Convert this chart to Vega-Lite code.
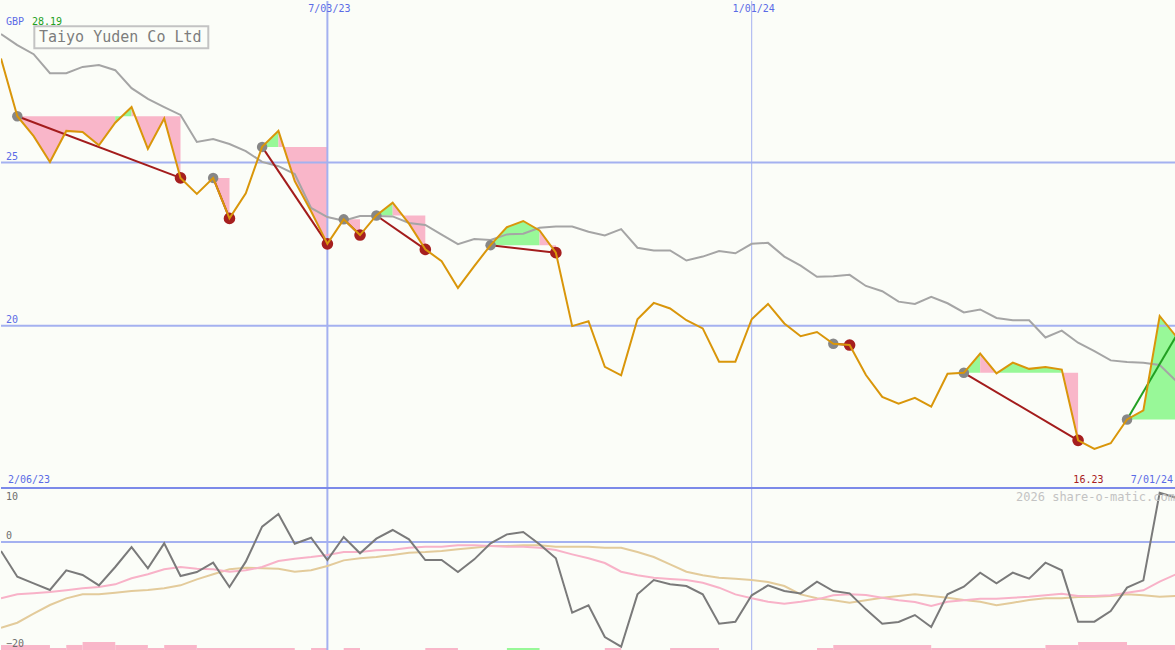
{
  "$schema": "https://vega.github.io/schema/vega-lite/v6.json",
  "background": "#fbfdf8",
  "padding": 0,
  "spacing": 0,
  "bounds": "flush",
  "config": {
    "view": {"stroke": null},
    "text": {"font": "DejaVu Sans Mono"}
  },
  "datasets": {
    "weekly": [
      {"date": "2023-02-13", "close": 28.19, "trend": 28.94, "osc": -1.67, "fast": -10.46, "slow": -15.91},
      {"date": "2023-02-20", "close": 26.42, "trend": 28.60, "osc": -6.44, "fast": -9.72, "slow": -14.99},
      {"date": "2023-02-27", "close": 25.81, "trend": 28.32, "osc": -7.67, "fast": -9.50, "slow": -13.31},
      {"date": "2023-03-06", "close": 25.02, "trend": 27.74, "osc": -8.91, "fast": -9.29, "slow": -11.70},
      {"date": "2023-03-13", "close": 25.97, "trend": 27.74, "osc": -5.26, "fast": -8.95, "slow": -10.46},
      {"date": "2023-03-20", "close": 25.94, "trend": 27.93, "osc": -6.13, "fast": -8.60, "slow": -9.72},
      {"date": "2023-03-27", "close": 25.53, "trend": 27.99, "osc": -8.05, "fast": -8.36, "slow": -9.72},
      {"date": "2023-04-03", "close": 26.22, "trend": 27.83, "osc": -4.64, "fast": -7.86, "slow": -9.41},
      {"date": "2023-04-10", "close": 26.70, "trend": 27.28, "osc": -0.93, "fast": -6.74, "slow": -9.10},
      {"date": "2023-04-17", "close": 25.42, "trend": 26.95, "osc": -4.89, "fast": -6.00, "slow": -8.91},
      {"date": "2023-04-24", "close": 26.35, "trend": 26.70, "osc": -0.25, "fast": -5.07, "slow": -8.60},
      {"date": "2023-05-01", "close": 24.53, "trend": 26.46, "osc": -6.31, "fast": -4.64, "slow": -8.05},
      {"date": "2023-05-08", "close": 24.04, "trend": 25.63, "osc": -5.57, "fast": -4.95, "slow": -6.93},
      {"date": "2023-05-15", "close": 24.53, "trend": 25.72, "osc": -3.84, "fast": -5.07, "slow": -6.00},
      {"date": "2023-05-22", "close": 23.29, "trend": 25.57, "osc": -8.36, "fast": -5.51, "slow": -5.07},
      {"date": "2023-05-29", "close": 24.06, "trend": 25.35, "osc": -3.65, "fast": -5.26, "slow": -4.77},
      {"date": "2023-06-05", "close": 25.48, "trend": 25.02, "osc": 2.85, "fast": -4.64, "slow": -4.89},
      {"date": "2023-06-12", "close": 25.97, "trend": 24.89, "osc": 5.20, "fast": -3.53, "slow": -4.95},
      {"date": "2023-06-19", "close": 24.43, "trend": 24.65, "osc": -0.31, "fast": -3.10, "slow": -5.51},
      {"date": "2023-06-26", "close": 23.51, "trend": 23.61, "osc": 0.80, "fast": -2.79, "slow": -5.26},
      {"date": "2023-07-03", "close": 22.51, "trend": 23.33, "osc": -3.34, "fast": -2.41, "slow": -4.46},
      {"date": "2023-07-10", "close": 23.26, "trend": 23.22, "osc": 0.93, "fast": -1.86, "slow": -3.41},
      {"date": "2023-07-17", "close": 22.78, "trend": 23.36, "osc": -2.10, "fast": -1.86, "slow": -3.03},
      {"date": "2023-07-24", "close": 23.38, "trend": 23.36, "osc": 0.62, "fast": -1.55, "slow": -2.79},
      {"date": "2023-07-31", "close": 23.77, "trend": 23.35, "osc": 2.23, "fast": -1.42, "slow": -2.41},
      {"date": "2023-08-07", "close": 23.13, "trend": 23.15, "osc": 0.50, "fast": -1.05, "slow": -1.98},
      {"date": "2023-08-14", "close": 22.34, "trend": 23.09, "osc": -3.34, "fast": -0.87, "slow": -1.86},
      {"date": "2023-08-21", "close": 21.98, "trend": 22.79, "osc": -3.34, "fast": -0.87, "slow": -1.67},
      {"date": "2023-08-28", "close": 21.16, "trend": 22.50, "osc": -5.57, "fast": -0.62, "slow": -1.36},
      {"date": "2023-09-04", "close": 21.83, "trend": 22.66, "osc": -3.22, "fast": -0.62, "slow": -1.05},
      {"date": "2023-09-11", "close": 22.47, "trend": 22.63, "osc": -0.25, "fast": -0.74, "slow": -0.74},
      {"date": "2023-09-18", "close": 23.02, "trend": 22.80, "osc": 1.42, "fast": -0.87, "slow": -0.74},
      {"date": "2023-09-25", "close": 23.21, "trend": 22.82, "osc": 1.86, "fast": -0.87, "slow": -0.62},
      {"date": "2023-10-02", "close": 22.92, "trend": 23.00, "osc": -0.43, "fast": -1.05, "slow": -0.62},
      {"date": "2023-10-09", "close": 22.24, "trend": 23.04, "osc": -3.03, "fast": -1.49, "slow": -0.87},
      {"date": "2023-10-16", "close": 19.99, "trend": 23.04, "osc": -13.13, "fast": -2.29, "slow": -0.87},
      {"date": "2023-10-23", "close": 20.14, "trend": 22.88, "osc": -11.76, "fast": -3.03, "slow": -0.87},
      {"date": "2023-10-30", "close": 18.74, "trend": 22.77, "osc": -17.64, "fast": -3.90, "slow": -1.05},
      {"date": "2023-11-06", "close": 18.48, "trend": 22.96, "osc": -19.44, "fast": -5.51, "slow": -1.05},
      {"date": "2023-11-13", "close": 20.20, "trend": 22.39, "osc": -9.72, "fast": -6.18, "slow": -1.86},
      {"date": "2023-11-20", "close": 20.70, "trend": 22.31, "osc": -7.06, "fast": -6.63, "slow": -2.79},
      {"date": "2023-11-27", "close": 20.53, "trend": 22.31, "osc": -7.86, "fast": -6.85, "slow": -4.15},
      {"date": "2023-12-04", "close": 20.17, "trend": 22.00, "osc": -8.17, "fast": -7.06, "slow": -5.51},
      {"date": "2023-12-11", "close": 19.92, "trend": 22.12, "osc": -9.72, "fast": -7.56, "slow": -6.18},
      {"date": "2023-12-18", "close": 18.90, "trend": 22.29, "osc": -15.17, "fast": -8.48, "slow": -6.63},
      {"date": "2023-12-25", "close": 18.90, "trend": 22.22, "osc": -14.80, "fast": -9.72, "slow": -6.81},
      {"date": "2024-01-01", "close": 20.20, "trend": 22.51, "osc": -9.90, "fast": -10.46, "slow": -7.06},
      {"date": "2024-01-08", "close": 20.67, "trend": 22.54, "osc": -8.05, "fast": -11.09, "slow": -7.43},
      {"date": "2024-01-15", "close": 20.07, "trend": 22.12, "osc": -9.10, "fast": -11.46, "slow": -8.17},
      {"date": "2024-01-22", "close": 19.68, "trend": 21.84, "osc": -9.54, "fast": -11.09, "slow": -9.72},
      {"date": "2024-01-29", "close": 19.81, "trend": 21.50, "osc": -7.37, "fast": -10.65, "slow": -10.46},
      {"date": "2024-02-05", "close": 19.45, "trend": 21.52, "osc": -9.10, "fast": -9.90, "slow": -10.83},
      {"date": "2024-02-12", "close": 19.41, "trend": 21.56, "osc": -9.54, "fast": -9.72, "slow": -11.27},
      {"date": "2024-02-19", "close": 18.49, "trend": 21.22, "osc": -12.51, "fast": -9.84, "slow": -10.83},
      {"date": "2024-02-26", "close": 17.82, "trend": 21.06, "osc": -15.17, "fast": -10.34, "slow": -10.34},
      {"date": "2024-03-04", "close": 17.61, "trend": 20.74, "osc": -14.86, "fast": -10.83, "slow": -10.03},
      {"date": "2024-03-11", "close": 17.79, "trend": 20.67, "osc": -13.56, "fast": -11.14, "slow": -9.72},
      {"date": "2024-03-18", "close": 17.52, "trend": 20.89, "osc": -15.78, "fast": -11.88, "slow": -10.03},
      {"date": "2024-03-25", "close": 18.53, "trend": 20.69, "osc": -9.72, "fast": -11.09, "slow": -10.34},
      {"date": "2024-04-01", "close": 18.56, "trend": 20.41, "osc": -8.29, "fast": -10.83, "slow": -10.77},
      {"date": "2024-04-08", "close": 19.15, "trend": 20.50, "osc": -5.69, "fast": -10.53, "slow": -11.09},
      {"date": "2024-04-15", "close": 18.54, "trend": 20.24, "osc": -7.67, "fast": -10.53, "slow": -11.76},
      {"date": "2024-04-22", "close": 18.87, "trend": 20.17, "osc": -5.69, "fast": -10.34, "slow": -11.27},
      {"date": "2024-04-29", "close": 18.68, "trend": 20.17, "osc": -6.81, "fast": -10.16, "slow": -10.77},
      {"date": "2024-05-06", "close": 18.74, "trend": 19.64, "osc": -3.84, "fast": -9.90, "slow": -10.46},
      {"date": "2024-05-13", "close": 18.66, "trend": 19.85, "osc": -5.26, "fast": -9.60, "slow": -10.46},
      {"date": "2024-05-20", "close": 16.49, "trend": 19.48, "osc": -14.80, "fast": -10.03, "slow": -10.21},
      {"date": "2024-05-27", "close": 16.23, "trend": 19.22, "osc": -14.80, "fast": -10.03, "slow": -10.16},
      {"date": "2024-06-03", "close": 16.40, "trend": 18.94, "osc": -12.81, "fast": -9.90, "slow": -10.03},
      {"date": "2024-06-10", "close": 17.13, "trend": 18.89, "osc": -8.48, "fast": -9.41, "slow": -9.72},
      {"date": "2024-06-17", "close": 17.41, "trend": 18.87, "osc": -7.12, "fast": -8.97, "slow": -9.90},
      {"date": "2024-06-24", "close": 20.30, "trend": 18.80, "osc": 9.16, "fast": -7.37, "slow": -10.16},
      {"date": "2024-07-01", "close": 19.68, "trend": 18.31, "osc": 8.23, "fast": -6.00, "slow": -10.03}
    ],
    "trades": [
      {"trade": 1, "date": "2023-02-20", "price": 26.42, "role": "entry", "state": "closed"},
      {"trade": 1, "date": "2023-05-01", "price": 24.53, "role": "exit", "state": "closed"},
      {"trade": 2, "date": "2023-05-15", "price": 24.53, "role": "entry", "state": "closed"},
      {"trade": 2, "date": "2023-05-22", "price": 23.29, "role": "exit", "state": "closed"},
      {"trade": 3, "date": "2023-06-05", "price": 25.48, "role": "entry", "state": "closed"},
      {"trade": 3, "date": "2023-07-03", "price": 22.51, "role": "exit", "state": "closed"},
      {"trade": 4, "date": "2023-07-10", "price": 23.26, "role": "entry", "state": "closed"},
      {"trade": 4, "date": "2023-07-17", "price": 22.78, "role": "exit", "state": "closed"},
      {"trade": 5, "date": "2023-07-24", "price": 23.38, "role": "entry", "state": "closed"},
      {"trade": 5, "date": "2023-08-14", "price": 22.34, "role": "exit", "state": "closed"},
      {"trade": 6, "date": "2023-09-11", "price": 22.47, "role": "entry", "state": "closed"},
      {"trade": 6, "date": "2023-10-09", "price": 22.24, "role": "exit", "state": "closed"},
      {"trade": 7, "date": "2024-02-05", "price": 19.45, "role": "entry", "state": "closed"},
      {"trade": 7, "date": "2024-02-12", "price": 19.41, "role": "exit", "state": "closed"},
      {"trade": 8, "date": "2024-04-01", "price": 18.56, "role": "entry", "state": "closed"},
      {"trade": 8, "date": "2024-05-20", "price": 16.49, "role": "exit", "state": "closed"},
      {"trade": 9, "date": "2024-06-10", "price": 17.13, "role": "entry", "state": "open"},
      {"trade": 9, "date": "2024-07-01", "price": 19.68, "role": "last", "state": "open"}
    ],
    "legs": [
      {"leg": "1a", "result": "loss", "level": 26.42, "date": "2023-02-20", "close": 26.42},
      {"leg": "1a", "result": "loss", "level": 26.42, "date": "2023-02-27", "close": 25.81},
      {"leg": "1a", "result": "loss", "level": 26.42, "date": "2023-03-06", "close": 25.02},
      {"leg": "1a", "result": "loss", "level": 26.42, "date": "2023-03-13", "close": 25.97},
      {"leg": "1a", "result": "loss", "level": 26.42, "date": "2023-03-20", "close": 25.94},
      {"leg": "1a", "result": "loss", "level": 26.42, "date": "2023-03-27", "close": 25.53},
      {"leg": "1a", "result": "loss", "level": 26.42, "date": "2023-04-03", "close": 26.22},
      {"leg": "1b", "result": "gain", "level": 26.42, "date": "2023-04-03", "close": 26.22},
      {"leg": "1b", "result": "gain", "level": 26.42, "date": "2023-04-10", "close": 26.70},
      {"leg": "1c", "result": "loss", "level": 26.42, "date": "2023-04-10", "close": 26.70},
      {"leg": "1c", "result": "loss", "level": 26.42, "date": "2023-04-17", "close": 25.42},
      {"leg": "1c", "result": "loss", "level": 26.42, "date": "2023-04-24", "close": 26.35},
      {"leg": "1c", "result": "loss", "level": 26.42, "date": "2023-05-01", "close": 24.53},
      {"leg": "2", "result": "loss", "level": 24.53, "date": "2023-05-15", "close": 24.53},
      {"leg": "2", "result": "loss", "level": 24.53, "date": "2023-05-22", "close": 23.29},
      {"leg": "3a", "result": "gain", "level": 25.48, "date": "2023-06-05", "close": 25.48},
      {"leg": "3a", "result": "gain", "level": 25.48, "date": "2023-06-12", "close": 25.97},
      {"leg": "3b", "result": "loss", "level": 25.48, "date": "2023-06-12", "close": 25.97},
      {"leg": "3b", "result": "loss", "level": 25.48, "date": "2023-06-19", "close": 24.43},
      {"leg": "3b", "result": "loss", "level": 25.48, "date": "2023-06-26", "close": 23.51},
      {"leg": "3b", "result": "loss", "level": 25.48, "date": "2023-07-03", "close": 22.51},
      {"leg": "4", "result": "loss", "level": 23.26, "date": "2023-07-10", "close": 23.26},
      {"leg": "4", "result": "loss", "level": 23.26, "date": "2023-07-17", "close": 22.78},
      {"leg": "5a", "result": "gain", "level": 23.38, "date": "2023-07-24", "close": 23.38},
      {"leg": "5a", "result": "gain", "level": 23.38, "date": "2023-07-31", "close": 23.77},
      {"leg": "5b", "result": "loss", "level": 23.38, "date": "2023-07-31", "close": 23.77},
      {"leg": "5b", "result": "loss", "level": 23.38, "date": "2023-08-07", "close": 23.13},
      {"leg": "5b", "result": "loss", "level": 23.38, "date": "2023-08-14", "close": 22.34},
      {"leg": "6a", "result": "gain", "level": 22.47, "date": "2023-09-11", "close": 22.47},
      {"leg": "6a", "result": "gain", "level": 22.47, "date": "2023-09-18", "close": 23.02},
      {"leg": "6a", "result": "gain", "level": 22.47, "date": "2023-09-25", "close": 23.21},
      {"leg": "6a", "result": "gain", "level": 22.47, "date": "2023-10-02", "close": 22.92},
      {"leg": "6b", "result": "loss", "level": 22.47, "date": "2023-10-02", "close": 22.92},
      {"leg": "6b", "result": "loss", "level": 22.47, "date": "2023-10-09", "close": 22.24},
      {"leg": "7", "result": "loss", "level": 19.45, "date": "2024-02-05", "close": 19.45},
      {"leg": "7", "result": "loss", "level": 19.45, "date": "2024-02-12", "close": 19.41},
      {"leg": "8a", "result": "gain", "level": 18.56, "date": "2024-04-01", "close": 18.56},
      {"leg": "8a", "result": "gain", "level": 18.56, "date": "2024-04-08", "close": 19.15},
      {"leg": "8b", "result": "loss", "level": 18.56, "date": "2024-04-08", "close": 19.15},
      {"leg": "8b", "result": "loss", "level": 18.56, "date": "2024-04-15", "close": 18.54},
      {"leg": "8c", "result": "gain", "level": 18.56, "date": "2024-04-15", "close": 18.54},
      {"leg": "8c", "result": "gain", "level": 18.56, "date": "2024-04-22", "close": 18.87},
      {"leg": "8c", "result": "gain", "level": 18.56, "date": "2024-04-29", "close": 18.68},
      {"leg": "8c", "result": "gain", "level": 18.56, "date": "2024-05-06", "close": 18.74},
      {"leg": "8c", "result": "gain", "level": 18.56, "date": "2024-05-13", "close": 18.66},
      {"leg": "8d", "result": "loss", "level": 18.56, "date": "2024-05-13", "close": 18.66},
      {"leg": "8d", "result": "loss", "level": 18.56, "date": "2024-05-20", "close": 16.49},
      {"leg": "9", "result": "gain", "level": 17.13, "date": "2024-06-10", "close": 17.13},
      {"leg": "9", "result": "gain", "level": 17.13, "date": "2024-06-17", "close": 17.41},
      {"leg": "9", "result": "gain", "level": 17.13, "date": "2024-06-24", "close": 20.30},
      {"leg": "9", "result": "gain", "level": 17.13, "date": "2024-07-01", "close": 19.68}
    ],
    "streaks": [
      {"from": "2023-02-13", "to": "2023-03-06", "count": 2, "tone": "down"},
      {"from": "2023-03-06", "to": "2023-03-13", "count": 1, "tone": "down"},
      {"from": "2023-03-13", "to": "2023-03-20", "count": 2, "tone": "down"},
      {"from": "2023-03-20", "to": "2023-04-03", "count": 3, "tone": "down"},
      {"from": "2023-04-03", "to": "2023-04-17", "count": 2, "tone": "down"},
      {"from": "2023-04-17", "to": "2023-04-24", "count": 1, "tone": "down"},
      {"from": "2023-04-24", "to": "2023-05-08", "count": 2, "tone": "down"},
      {"from": "2023-05-08", "to": "2023-06-19", "count": 1, "tone": "down"},
      {"from": "2023-06-26", "to": "2023-07-03", "count": 1, "tone": "down"},
      {"from": "2023-07-10", "to": "2023-07-17", "count": 1, "tone": "down"},
      {"from": "2023-08-14", "to": "2023-08-28", "count": 1, "tone": "down"},
      {"from": "2023-09-18", "to": "2023-10-02", "count": 1, "tone": "up"},
      {"from": "2023-10-30", "to": "2023-11-06", "count": 1, "tone": "down"},
      {"from": "2023-11-27", "to": "2023-12-18", "count": 1, "tone": "down"},
      {"from": "2024-01-29", "to": "2024-02-05", "count": 1, "tone": "down"},
      {"from": "2024-02-05", "to": "2024-03-18", "count": 2, "tone": "down"},
      {"from": "2024-03-18", "to": "2024-05-06", "count": 1, "tone": "down"},
      {"from": "2024-05-06", "to": "2024-05-20", "count": 2, "tone": "down"},
      {"from": "2024-05-20", "to": "2024-06-10", "count": 3, "tone": "down"},
      {"from": "2024-06-10", "to": "2024-07-01", "count": 2, "tone": "down"}
    ],
    "dateMarks": [
      {"date": "2023-07-03"},
      {"date": "2024-01-01"}
    ],
    "levels": [
      {"price": 20},
      {"price": 25}
    ],
    "oscTicks": [
      {"value": 10},
      {"value": 0},
      {"value": -20}
    ]
  },
  "vconcat": [
    {
      "width": 1175,
      "height": 487,
      "resolve": {"scale": {"color": "independent", "size": "independent"}},
      "layer": [
        {
          "data": {"name": "legs"},
          "mark": {"type": "area", "opacity": 1, "clip": true},
          "encoding": {
            "x": {"field": "date", "type": "temporal", "scale": {"domain": [{"year": 2023, "month": 2, "date": 13, "utc": true}, {"year": 2024, "month": 7, "date": 1, "utc": true}], "nice": false}, "axis": null},
            "y": {"field": "close", "type": "quantitative", "stack": null, "scale": {"domain": [15.03, 29.95], "nice": false, "zero": false}, "axis": null},
            "y2": {"field": "level"},
            "color": {"field": "result", "type": "nominal", "scale": {"domain": ["gain", "loss"], "range": ["#98f898", "#f9b6c9"]}, "legend": null},
            "detail": {"field": "leg"}
          }
        },
        {
          "data": {"name": "dateMarks"},
          "mark": {"type": "rule", "color": "#a4b1f0"},
          "encoding": {
            "x": {"field": "date", "type": "temporal", "scale": {"domain": [{"year": 2023, "month": 2, "date": 13, "utc": true}, {"year": 2024, "month": 7, "date": 1, "utc": true}], "nice": false}, "axis": null},
            "strokeWidth": {"condition": {"test": "utcyear(datum.date) == 2023", "value": 2}, "value": 1}
          }
        },
        {
          "data": {"name": "levels"},
          "mark": {"type": "rule", "color": "#a4b1f0", "strokeWidth": 2},
          "encoding": {
            "y": {"field": "price", "type": "quantitative", "scale": {"domain": [15.03, 29.95], "nice": false, "zero": false}, "axis": null}
          }
        },
        {
          "data": {"name": "levels"},
          "mark": {"type": "text", "align": "left", "baseline": "middle", "dx": 5, "dy": -6, "fontSize": 10, "color": "#5a6be6"},
          "encoding": {
            "x": {"datum": {"year": 2023, "month": 2, "date": 13, "utc": true}, "type": "temporal", "scale": {"domain": [{"year": 2023, "month": 2, "date": 13, "utc": true}, {"year": 2024, "month": 7, "date": 1, "utc": true}], "nice": false}, "axis": null},
            "y": {"field": "price", "type": "quantitative", "scale": {"domain": [15.03, 29.95], "nice": false, "zero": false}, "axis": null},
            "text": {"field": "price", "type": "quantitative"}
          }
        },
        {
          "data": {"name": "weekly"},
          "mark": {"type": "line", "color": "#a5a5a5", "strokeWidth": 2, "clip": true},
          "encoding": {
            "x": {"field": "date", "type": "temporal", "scale": {"domain": [{"year": 2023, "month": 2, "date": 13, "utc": true}, {"year": 2024, "month": 7, "date": 1, "utc": true}], "nice": false}, "axis": null},
            "y": {"field": "trend", "type": "quantitative", "scale": {"domain": [15.03, 29.95], "nice": false, "zero": false}, "axis": null}
          }
        },
        {
          "data": {"name": "trades"},
          "mark": {"type": "line", "strokeWidth": 2, "clip": true},
          "encoding": {
            "x": {"field": "date", "type": "temporal", "scale": {"domain": [{"year": 2023, "month": 2, "date": 13, "utc": true}, {"year": 2024, "month": 7, "date": 1, "utc": true}], "nice": false}, "axis": null},
            "y": {"field": "price", "type": "quantitative", "scale": {"domain": [15.03, 29.95], "nice": false, "zero": false}, "axis": null},
            "detail": {"field": "trade"},
            "color": {"field": "state", "type": "nominal", "scale": {"domain": ["closed", "open"], "range": ["#a31c1c", "#22a022"]}, "legend": null}
          }
        },
        {
          "data": {"name": "trades"},
          "transform": [{"filter": "datum.role != 'last'"}],
          "mark": {"type": "point", "shape": "circle", "filled": true, "opacity": 1},
          "encoding": {
            "x": {"field": "date", "type": "temporal", "scale": {"domain": [{"year": 2023, "month": 2, "date": 13, "utc": true}, {"year": 2024, "month": 7, "date": 1, "utc": true}], "nice": false}, "axis": null},
            "y": {"field": "price", "type": "quantitative", "scale": {"domain": [15.03, 29.95], "nice": false, "zero": false}, "axis": null},
            "color": {"field": "role", "type": "nominal", "scale": {"domain": ["entry", "exit"], "range": ["#878787", "#a61f1f"]}, "legend": null},
            "size": {"field": "role", "type": "nominal", "scale": {"domain": ["entry", "exit"], "range": [110, 135]}, "legend": null}
          }
        },
        {
          "data": {"name": "weekly"},
          "mark": {"type": "line", "color": "#d9960a", "strokeWidth": 2, "clip": true},
          "encoding": {
            "x": {"field": "date", "type": "temporal", "scale": {"domain": [{"year": 2023, "month": 2, "date": 13, "utc": true}, {"year": 2024, "month": 7, "date": 1, "utc": true}], "nice": false}, "axis": null},
            "y": {"field": "close", "type": "quantitative", "scale": {"domain": [15.03, 29.95], "nice": false, "zero": false}, "axis": null}
          }
        },
        {
          "data": {"name": "dateMarks"},
          "mark": {"type": "text", "align": "center", "baseline": "middle", "dx": 2, "fontSize": 10, "color": "#5a6be6"},
          "encoding": {
            "x": {"field": "date", "type": "temporal", "scale": {"domain": [{"year": 2023, "month": 2, "date": 13, "utc": true}, {"year": 2024, "month": 7, "date": 1, "utc": true}], "nice": false}, "axis": null},
            "y": {"datum": 29.705, "type": "quantitative", "scale": {"domain": [15.03, 29.95], "nice": false, "zero": false}, "axis": null},
            "text": {"field": "date", "type": "temporal", "timeUnit": "utcyearmonthdate", "format": "%-m/%d/%y"}
          }
        },
        {
          "data": {"values": [{}]},
          "mark": {"type": "text", "align": "left", "baseline": "middle", "dx": 5, "fontSize": 10, "color": "#5a6be6", "text": "GBP"},
          "encoding": {
            "x": {"datum": {"year": 2023, "month": 2, "date": 13, "utc": true}, "type": "temporal", "scale": {"domain": [{"year": 2023, "month": 2, "date": 13, "utc": true}, {"year": 2024, "month": 7, "date": 1, "utc": true}], "nice": false}, "axis": null},
            "y": {"datum": 29.31, "type": "quantitative", "scale": {"domain": [15.03, 29.95], "nice": false, "zero": false}, "axis": null}
          }
        },
        {
          "data": {"name": "weekly"},
          "transform": [{"aggregate": [{"op": "max", "field": "close", "as": "top"}]}],
          "mark": {"type": "text", "align": "left", "baseline": "middle", "dx": 31, "fontSize": 10, "color": "#22a022"},
          "encoding": {
            "x": {"datum": {"year": 2023, "month": 2, "date": 13, "utc": true}, "type": "temporal", "scale": {"domain": [{"year": 2023, "month": 2, "date": 13, "utc": true}, {"year": 2024, "month": 7, "date": 1, "utc": true}], "nice": false}, "axis": null},
            "y": {"datum": 29.31, "type": "quantitative", "scale": {"domain": [15.03, 29.95], "nice": false, "zero": false}, "axis": null},
            "text": {"field": "top", "type": "quantitative", "format": ".2f"}
          }
        },
        {
          "data": {"name": "weekly"},
          "transform": [
            {"joinaggregate": [{"op": "min", "field": "close", "as": "lowest"}]},
            {"filter": "datum.close == datum.lowest"}
          ],
          "mark": {"type": "text", "align": "center", "baseline": "middle", "dx": -6, "fontSize": 10, "color": "#a82020"},
          "encoding": {
            "x": {"field": "date", "type": "temporal", "scale": {"domain": [{"year": 2023, "month": 2, "date": 13, "utc": true}, {"year": 2024, "month": 7, "date": 1, "utc": true}], "nice": false}, "axis": null},
            "y": {"datum": 15.275, "type": "quantitative", "scale": {"domain": [15.03, 29.95], "nice": false, "zero": false}, "axis": null},
            "text": {"field": "close", "type": "quantitative", "format": ".2f"}
          }
        },
        {
          "data": {"values": [{}]},
          "mark": {"type": "text", "align": "left", "baseline": "middle", "dx": 7, "fontSize": 10, "color": "#5a6be6", "text": "2/06/23"},
          "encoding": {
            "x": {"datum": {"year": 2023, "month": 2, "date": 13, "utc": true}, "type": "temporal", "scale": {"domain": [{"year": 2023, "month": 2, "date": 13, "utc": true}, {"year": 2024, "month": 7, "date": 1, "utc": true}], "nice": false}, "axis": null},
            "y": {"datum": 15.275, "type": "quantitative", "scale": {"domain": [15.03, 29.95], "nice": false, "zero": false}, "axis": null}
          }
        },
        {
          "data": {"values": [{}]},
          "mark": {"type": "text", "align": "right", "baseline": "middle", "dx": -3, "fontSize": 10, "color": "#5a6be6", "text": "7/01/24"},
          "encoding": {
            "x": {"datum": {"year": 2024, "month": 7, "date": 1, "utc": true}, "type": "temporal", "scale": {"domain": [{"year": 2023, "month": 2, "date": 13, "utc": true}, {"year": 2024, "month": 7, "date": 1, "utc": true}], "nice": false}, "axis": null},
            "y": {"datum": 15.275, "type": "quantitative", "scale": {"domain": [15.03, 29.95], "nice": false, "zero": false}, "axis": null}
          }
        },
        {
          "data": {"values": [{}]},
          "mark": {"type": "rect", "fill": "#fbfdf8", "stroke": "#c3c3c3", "strokeWidth": 2},
          "encoding": {
            "x": {"datum": {"year": 2023, "month": 2, "date": 27, "hours": 7, "utc": true}, "type": "temporal", "scale": {"domain": [{"year": 2023, "month": 2, "date": 13, "utc": true}, {"year": 2024, "month": 7, "date": 1, "utc": true}], "nice": false}, "axis": null},
            "x2": {"datum": {"year": 2023, "month": 5, "date": 12, "hours": 22, "utc": true}},
            "y": {"datum": 29.175, "type": "quantitative", "scale": {"domain": [15.03, 29.95], "nice": false, "zero": false}, "axis": null},
            "y2": {"datum": 28.50}
          }
        },
        {
          "data": {"values": [{}]},
          "mark": {"type": "text", "align": "left", "baseline": "middle", "fontSize": 15, "color": "#7d7d7d", "text": "Taiyo Yuden Co Ltd"},
          "encoding": {
            "x": {"datum": {"year": 2023, "month": 3, "date": 1, "hours": 7, "utc": true}, "type": "temporal", "scale": {"domain": [{"year": 2023, "month": 2, "date": 13, "utc": true}, {"year": 2024, "month": 7, "date": 1, "utc": true}], "nice": false}, "axis": null},
            "y": {"datum": 28.838, "type": "quantitative", "scale": {"domain": [15.03, 29.95], "nice": false, "zero": false}, "axis": null}
          }
        }
      ]
    },
    {
      "width": 1175,
      "height": 163,
      "resolve": {"scale": {"y": "independent"}},
      "layer": [
        {
          "data": {"name": "streaks"},
          "mark": {"type": "rect"},
          "encoding": {
            "x": {"field": "from", "type": "temporal", "scale": {"domain": [{"year": 2023, "month": 2, "date": 13, "utc": true}, {"year": 2024, "month": 7, "date": 1, "utc": true}], "nice": false}, "axis": null},
            "x2": {"field": "to"},
            "y": {"field": "count", "type": "quantitative", "scale": {"domain": [0, 54], "nice": false, "zero": false}, "axis": null},
            "y2": {"datum": 0},
            "color": {"field": "tone", "type": "nominal", "scale": {"domain": ["up", "down"], "range": ["#98f898", "#f9b6c9"]}, "legend": null}
          }
        },
        {
          "layer": [
            {
              "data": {"name": "dateMarks"},
              "mark": {"type": "rule", "color": "#a4b1f0"},
              "encoding": {
                "x": {"field": "date", "type": "temporal", "scale": {"domain": [{"year": 2023, "month": 2, "date": 13, "utc": true}, {"year": 2024, "month": 7, "date": 1, "utc": true}], "nice": false}, "axis": null},
                "strokeWidth": {"condition": {"test": "utcyear(datum.date) == 2023", "value": 2}, "value": 1}
              }
            },
            {
              "data": {"values": [{}]},
              "mark": {"type": "rule", "color": "#a4b1f0", "strokeWidth": 2},
              "encoding": {
                "y": {"datum": 0, "type": "quantitative", "scale": {"domain": [-20.24, 10.03], "nice": false, "zero": false}, "axis": null}
              }
            },
            {
              "data": {"name": "oscTicks"},
              "transform": [{"filter": "datum.value == 10"}],
              "mark": {"type": "text", "align": "left", "baseline": "middle", "dx": 5, "dy": 9, "fontSize": 10, "color": "#6e6e6e"},
              "encoding": {
                "x": {"datum": {"year": 2023, "month": 2, "date": 13, "utc": true}, "type": "temporal", "scale": {"domain": [{"year": 2023, "month": 2, "date": 13, "utc": true}, {"year": 2024, "month": 7, "date": 1, "utc": true}], "nice": false}, "axis": null},
                "y": {"field": "value", "type": "quantitative", "scale": {"domain": [-20.24, 10.03], "nice": false, "zero": false}, "axis": null},
                "text": {"field": "value", "type": "quantitative"}
              }
            },
            {
              "data": {"name": "oscTicks"},
              "transform": [{"filter": "datum.value != 10"}],
              "mark": {"type": "text", "align": "left", "baseline": "middle", "dx": 5, "dy": -6, "fontSize": 10, "color": "#6e6e6e"},
              "encoding": {
                "x": {"datum": {"year": 2023, "month": 2, "date": 13, "utc": true}, "type": "temporal", "scale": {"domain": [{"year": 2023, "month": 2, "date": 13, "utc": true}, {"year": 2024, "month": 7, "date": 1, "utc": true}], "nice": false}, "axis": null},
                "y": {"field": "value", "type": "quantitative", "scale": {"domain": [-20.24, 10.03], "nice": false, "zero": false}, "axis": null},
                "text": {"field": "value", "type": "quantitative"}
              }
            },
            {
              "data": {"name": "weekly"},
              "mark": {"type": "line", "color": "#e3cb9b", "strokeWidth": 2, "clip": true},
              "encoding": {
                "x": {"field": "date", "type": "temporal", "scale": {"domain": [{"year": 2023, "month": 2, "date": 13, "utc": true}, {"year": 2024, "month": 7, "date": 1, "utc": true}], "nice": false}, "axis": null},
                "y": {"field": "slow", "type": "quantitative", "scale": {"domain": [-20.24, 10.03], "nice": false, "zero": false}, "axis": null}
              }
            },
            {
              "data": {"name": "weekly"},
              "mark": {"type": "line", "color": "#f8b2c8", "strokeWidth": 2, "clip": true},
              "encoding": {
                "x": {"field": "date", "type": "temporal", "scale": {"domain": [{"year": 2023, "month": 2, "date": 13, "utc": true}, {"year": 2024, "month": 7, "date": 1, "utc": true}], "nice": false}, "axis": null},
                "y": {"field": "fast", "type": "quantitative", "scale": {"domain": [-20.24, 10.03], "nice": false, "zero": false}, "axis": null}
              }
            },
            {
              "data": {"name": "weekly"},
              "mark": {"type": "line", "color": "#7a7a7a", "strokeWidth": 2, "clip": true},
              "encoding": {
                "x": {"field": "date", "type": "temporal", "scale": {"domain": [{"year": 2023, "month": 2, "date": 13, "utc": true}, {"year": 2024, "month": 7, "date": 1, "utc": true}], "nice": false}, "axis": null},
                "y": {"field": "osc", "type": "quantitative", "scale": {"domain": [-20.24, 10.03], "nice": false, "zero": false}, "axis": null}
              }
            },
            {
              "data": {"values": [{}]},
              "mark": {"type": "rule", "color": "#7c8ae9", "strokeWidth": 2},
              "encoding": {
                "y": {"datum": 10.03, "type": "quantitative", "scale": {"domain": [-20.24, 10.03], "nice": false, "zero": false}, "axis": null}
              }
            },
            {
              "data": {"values": [{}]},
              "mark": {"type": "text", "align": "right", "baseline": "middle", "dx": -1, "fontSize": 12, "color": "#c3c3c3", "text": "2026 share-o-matic.com"},
              "encoding": {
                "x": {"datum": {"year": 2024, "month": 7, "date": 1, "utc": true}, "type": "temporal", "scale": {"domain": [{"year": 2023, "month": 2, "date": 13, "utc": true}, {"year": 2024, "month": 7, "date": 1, "utc": true}], "nice": false}, "axis": null},
                "y": {"datum": 8.36, "type": "quantitative", "scale": {"domain": [-20.24, 10.03], "nice": false, "zero": false}, "axis": null}
              }
            }
          ]
        }
      ]
    }
  ]
}
